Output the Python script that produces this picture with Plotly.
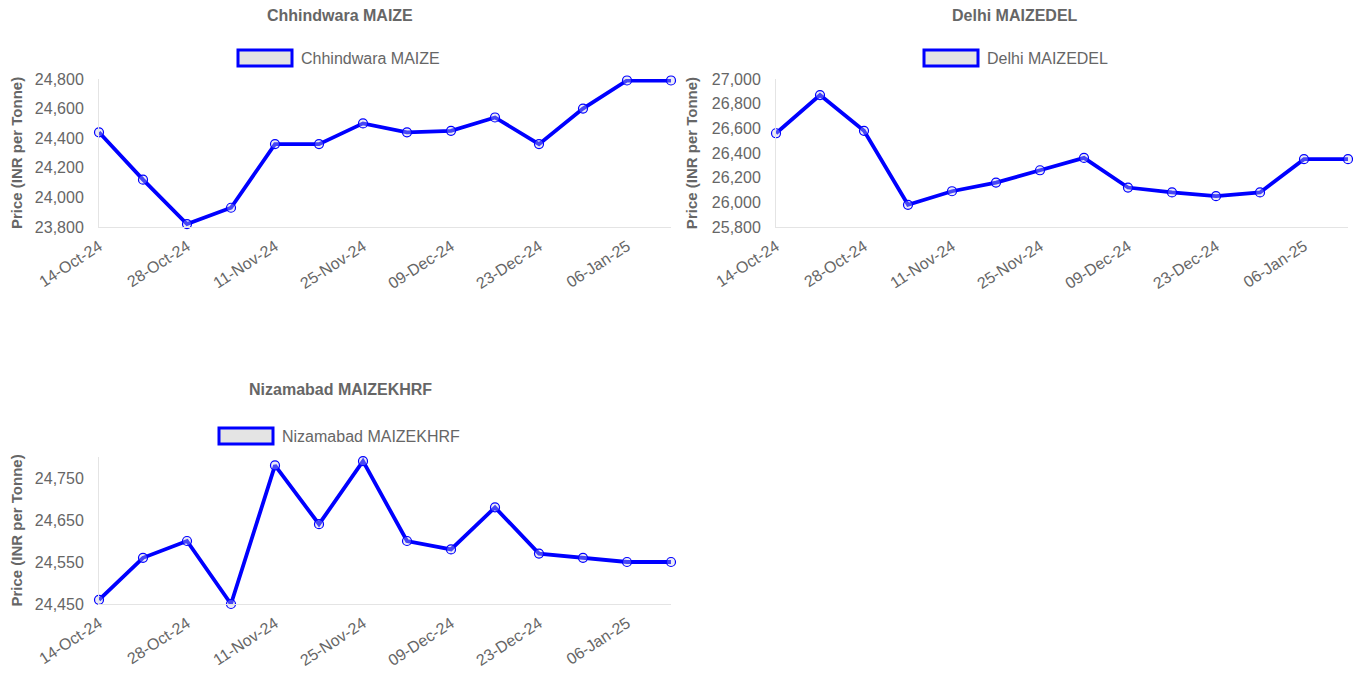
import plotly.graph_objects as go

# the page puts the figure 8px in from the top-left corner
PAD = 8
W, H = 1361 - 2 * PAD, 676 - 2 * PAD

dates = ["14-Oct-24", "21-Oct-24", "28-Oct-24", "04-Nov-24", "11-Nov-24", "18-Nov-24", "25-Nov-24",
         "02-Dec-24", "09-Dec-24", "16-Dec-24", "23-Dec-24", "30-Dec-24", "06-Jan-25", "13-Jan-25"]
tick_dates = ["14-Oct-24", "28-Oct-24", "11-Nov-24", "25-Nov-24", "09-Dec-24", "23-Dec-24", "06-Jan-25"]

chhindwara = [24440, 24120, 23820, 23930, 24360, 24360, 24500, 24440, 24450, 24540, 24360, 24600, 24790, 24790]
delhi = [26560, 26870, 26580, 25980, 26090, 26160, 26260, 26360, 26120, 26080, 26050, 26080, 26350, 26350]
nizamabad = [24460, 24560, 24600, 24450, 24780, 24640, 24790, 24600, 24580, 24680, 24570, 24560, 24550, 24550]

names = ["Chhindwara MAIZE", "Delhi MAIZEDEL", "Nizamabad MAIZEKHRF"]

FONT = "Liberation Sans, Arial, sans-serif"
GREY = "#666666"
BLUE = "#0000ff"


# screen pixels -> paper coords
def px(x):
    return (x - PAD) / W


def py(y):
    return 1 - (y - PAD) / H


# plot areas in pixels (left, right, top, bottom)
boxes = [(99, 671, 79, 227), (776, 1348, 79, 227), (99, 671, 457, 604)]
yranges = [[23800, 24800], [25800, 27000], [24450, 24800]]
ytick0 = [23800, 25800, 24450]
ydtick = [200, 200, 100]
titles_xy = [(340, 16), (1015, 16), (340, 390)]
legend_boxes = [(238, 292, 50, 66), (924, 978, 50, 66), (219, 273, 428, 444)]

fig = go.Figure()
series = [chhindwara, delhi, nizamabad]
layout = {}
for i, (vals, name) in enumerate(zip(series, names)):
    k = "" if i == 0 else str(i + 1)
    fig.add_trace(go.Scatter(
        x=dates, y=vals, name=name, mode="lines+markers",
        line=dict(color=BLUE, width=3.8),
        marker=dict(size=9, color="rgba(200,200,230,0.35)", line=dict(color=BLUE, width=1.2)),
        xaxis="x" + k, yaxis="y" + k, showlegend=False, cliponaxis=False,
    ))
    l, r, t, b = boxes[i]
    layout["xaxis" + k] = dict(
        domain=[px(l), px(r)], anchor="y" + k, type="category", range=[0, 13],
        tickmode="array", tickvals=tick_dates, tickangle=-33, automargin=False,
        showgrid=False, showline=True, linecolor="#e4e4e4", linewidth=1,
        zeroline=False, ticks="", ticklabelstandoff=3,
        tickfont=dict(family=FONT, size=16, color=GREY),
    )
    layout["yaxis" + k] = dict(
        domain=[py(b), py(t)], anchor="x" + k, range=yranges[i], automargin=False,
        tick0=ytick0[i], dtick=ydtick[i], tickformat=",d",
        showgrid=False, showline=True, linecolor="#e4e4e4", linewidth=1,
        zeroline=False, ticks="", ticklabelstandoff=11,
        tickfont=dict(family=FONT, size=16, color=GREY),
        title=dict(text="Price (INR per Tonne)", standoff=10,
                   font=dict(family=FONT, size=15, color=GREY, weight="bold")),
    )

annotations = []
shapes = []
for i, name in enumerate(names):
    tx, ty = titles_xy[i]
    annotations.append(dict(
        text="<b>" + name + "</b>", x=px(tx), y=py(ty), xref="paper", yref="paper",
        showarrow=False, xanchor="center", yanchor="middle", borderpad=0,
        font=dict(family=FONT, size=16, color=GREY),
    ))
    x0, x1, y0, y1 = legend_boxes[i]
    shapes.append(dict(
        type="rect", xref="paper", yref="paper",
        x0=px(x0), x1=px(x1), y0=py(y1), y1=py(y0),
        fillcolor="#e4e4e4", line=dict(color=BLUE, width=3),
    ))
    annotations.append(dict(
        text=name, x=px(x1 + 7), y=py((y0 + y1) / 2), xref="paper", yref="paper",
        showarrow=False, xanchor="left", yanchor="middle",
        font=dict(family=FONT, size=16, color=GREY),
    ))

fig.update_layout(
    template="none",
    width=W, height=H,
    margin=dict(l=0, r=0, t=0, b=0),
    paper_bgcolor="white", plot_bgcolor="white",
    annotations=annotations, shapes=shapes,
    **layout,
)

fig.write_html("out.html")
